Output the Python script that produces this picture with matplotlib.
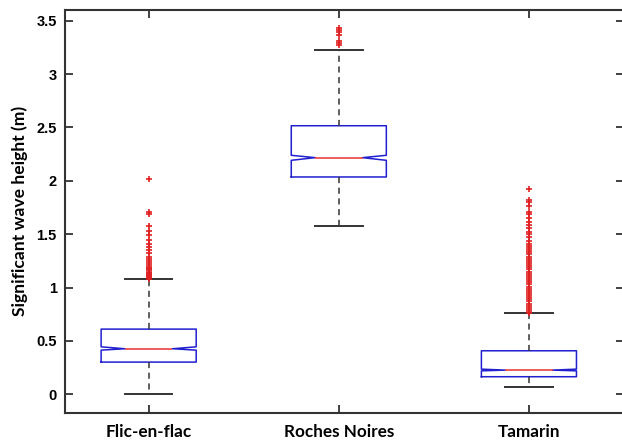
import matplotlib
matplotlib.use("Agg")
import matplotlib.pyplot as plt

categories = ["Flic-en-flac", "Roches Noires", "Tamarin"]
medians = [0.427, 2.217, 0.227]
q1 = [0.302, 2.036, 0.165]
q3 = [0.611, 2.516, 0.408]
ci_lo = [0.414, 2.192, 0.220]
ci_hi = [0.445, 2.239, 0.236]
whisk_lo = [0.003, 1.574, 0.065]
whisk_hi = [1.076, 3.230, 0.760]
fliers_flic = [2.02, 1.71, 1.69, 1.58, 1.53, 1.49, 1.45, 1.41, 1.38, 1.35, 1.32,
               1.29, 1.27, 1.25, 1.23, 1.21, 1.19, 1.18, 1.17, 1.16, 1.15, 1.14,
               1.13, 1.12, 1.11, 1.10, 1.09, 1.085]
fliers_roches = [3.43, 3.41, 3.39, 3.37, 3.31, 3.29, 3.27]
fliers_tamarin = [1.92, 1.82, 1.80, 1.76, 1.71, 1.69, 1.65, 1.61, 1.59, 1.56, 1.52,
                  1.50, 1.47, 1.44, 1.41, 1.39, 1.37, 1.35, 1.33, 1.31, 1.29, 1.27,
                  1.25, 1.23, 1.21, 1.19, 1.17, 1.15, 1.13, 1.11, 1.09, 1.07, 1.05,
                  1.03, 1.01, 0.99, 0.97, 0.95, 0.93, 0.91, 0.89, 0.87, 0.85, 0.83,
                  0.81, 0.79, 0.775, 0.765]
fliers = [fliers_flic, fliers_roches, fliers_tamarin]
yticks = [0, 0.5, 1, 1.5, 2, 2.5, 3, 3.5]
ytick_labels = ["0", "0.5", "1", "1.5", "2", "2.5", "3", "3.5"]

stats = []
for i in range(len(categories)):
    stats.append(dict(med=medians[i], q1=q1[i], q3=q3[i], cilo=ci_lo[i], cihi=ci_hi[i],
                      whislo=whisk_lo[i], whishi=whisk_hi[i], fliers=fliers[i],
                      label=categories[i]))

fig = plt.figure(figsize=(6.22, 4.42), dpi=100)
ax = fig.add_axes([65/622, 1 - 412.7/442, (624 - 65)/622, (412.7 - 10)/442])

ax.bxp(stats, positions=[1, 2, 3], widths=0.5, shownotches=True,
       boxprops=dict(color="#2020d0", linewidth=1.1),
       medianprops=dict(color="#e83030", linewidth=1.1),
       whiskerprops=dict(color="#333333", linewidth=1.1, linestyle=(0, (4, 3))),
       capprops=dict(color="#333333", linewidth=1.4),
       flierprops=dict(marker="+", markeredgecolor="#e02020", markersize=5,
                       markeredgewidth=1.2, linestyle="none"))

ax.set_xlim(0.56, 3.5)
ax.set_ylim(-0.172, 3.6)
ax.set_yticks(yticks)
ax.set_yticklabels(ytick_labels, fontfamily="Liberation Sans", fontweight="bold", fontsize=10.5)
ax.set_xticks([1, 2, 3])
ax.set_xticklabels(categories, fontfamily="Lato", fontweight="bold", fontsize=12.3)
ax.set_ylabel("Significant wave height (m)", fontfamily="Lato", fontweight="bold",
              fontsize=12.6, labelpad=6)
ax.tick_params(direction="in", length=6, width=1.3, color="#333333", top=True, right=True,
               pad=6)
ax.tick_params(axis="x", pad=8)
for s in ax.spines.values():
    s.set_color("#333333")
    s.set_linewidth(1.5)

fig.savefig("out.png", dpi=100)
